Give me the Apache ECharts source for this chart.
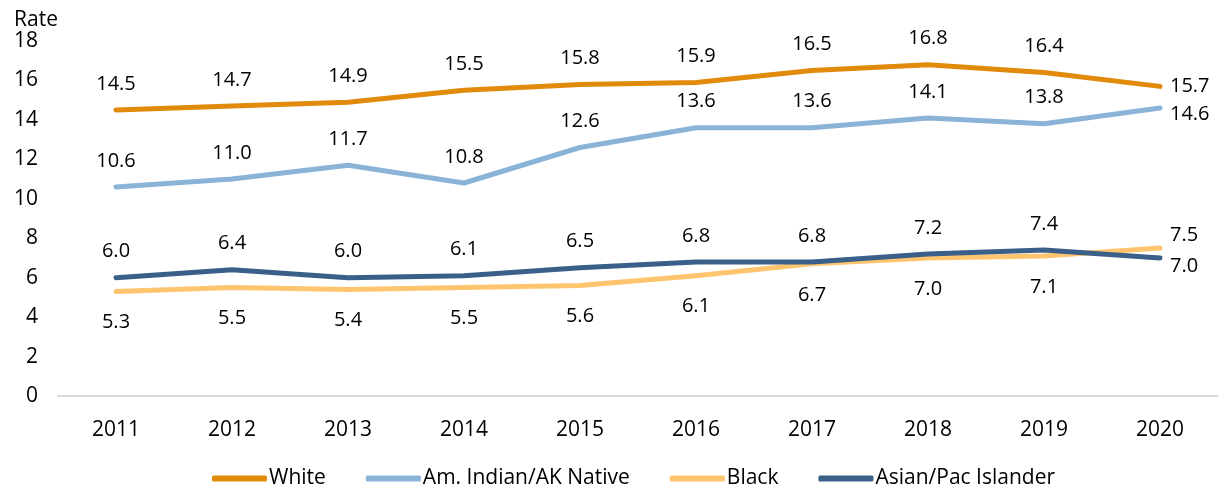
<!DOCTYPE html>
<html><head><meta charset="utf-8">
<script src="https://cdn.jsdelivr.net/npm/echarts@6/dist/echarts.min.js"></script>
<style>html,body{margin:0;padding:0;background:#fff}#c{width:1218px;height:489px}</style>
</head><body><div id="c"></div>
<script>
const years = ['2011','2012','2013','2014','2015','2016','2017','2018','2019','2020'];
const white = [14.5,14.7,14.9,15.5,15.8,15.9,16.5,16.8,16.4,15.7];
const amIndian = [10.6,11.0,11.7,10.8,12.6,13.6,13.6,14.1,13.8,14.6];
const black = [5.3,5.5,5.4,5.5,5.6,6.1,6.7,7.0,7.1,7.5];
const asian = [6.0,6.4,6.0,6.1,6.5,6.8,6.8,7.2,7.4,7.0];
const yTicks = [0,2,4,6,8,10,12,14,16,18];

const FONT = 'Open Sans';
function mk(vals, pos, dist, lastShift) {
  return vals.map((v, i) => {
    if (i === vals.length - 1) {
      return {value: v, label: {show: true, position: [lastShift[0], lastShift[1]], align: 'left', verticalAlign: 'middle'}};
    }
    return {value: v, label: {show: true, position: pos, distance: dist}};
  });
}
function series(name, vals, color, pos, dist, lastShift) {
  return {
    name, type: 'line', data: mk(vals, pos, dist, lastShift),
    symbol: 'circle', symbolSize: 0.1, showSymbol: true, showAllSymbol: true,
    lineStyle: {width: 5, color, cap: 'round', join: 'round'},
    itemStyle: {color},
    label: {show: true, distance: dist, color: '#000', fontFamily: FONT, fontSize: 20,
      formatter: p => p.value.toFixed(1)},
    labelLayout: {hideOverlap: false},
    emphasis: {disabled: true}
  };
}
const chart = echarts.init(document.getElementById('c'));
chart.setOption({
  animation: false,
  grid: {left: 58, right: 0, top: 41, bottom: 93, containLabel: false},
  xAxis: {type: 'category', data: years, boundaryGap: true,
    axisLine: {lineStyle: {color: '#d9d9d9', width: 2}}, axisTick: {show: false},
    axisLabel: {color: '#000', fontFamily: FONT, fontSize: 21, margin: 24}},
  yAxis: {type: 'value', min: 0, max: 18, interval: 2, name: 'Rate', nameLocation: 'end', nameGap: 10,
    nameTextStyle: {color: '#000', fontFamily: FONT, fontSize: 21, align: 'right', padding: [0, 0, 0, 0]},
    splitLine: {show: false}, axisLine: {show: false}, axisTick: {show: false},
    axisLabel: {color: '#000', fontFamily: FONT, fontSize: 21, margin: 20,
      formatter: v => yTicks.includes(v) ? String(v) : ''}},
  legend: {top: 468, left: 212, itemWidth: 55, itemHeight: 6, itemGap: 40, icon: 'roundRect', padding: 0,
    textStyle: {color: '#000', fontFamily: FONT, fontSize: 21, padding: [0,0,0,-3]},
    data: ['White','Am. Indian/AK Native','Black','Asian/Pac Islander']},
  series: [
    series('White', white, '#E28A0C', 'top', 16, [10, 0]),
    series('Am. Indian/AK Native', amIndian, '#8AB3D8', 'top', 16, [10, 6]),
    series('Black', black, '#FFC56E', 'bottom', 21, [10, -13]),
    series('Asian/Pac Islander', asian, '#3A5F89', 'top', 16, [10, 8])
  ]
});
</script></body></html>
